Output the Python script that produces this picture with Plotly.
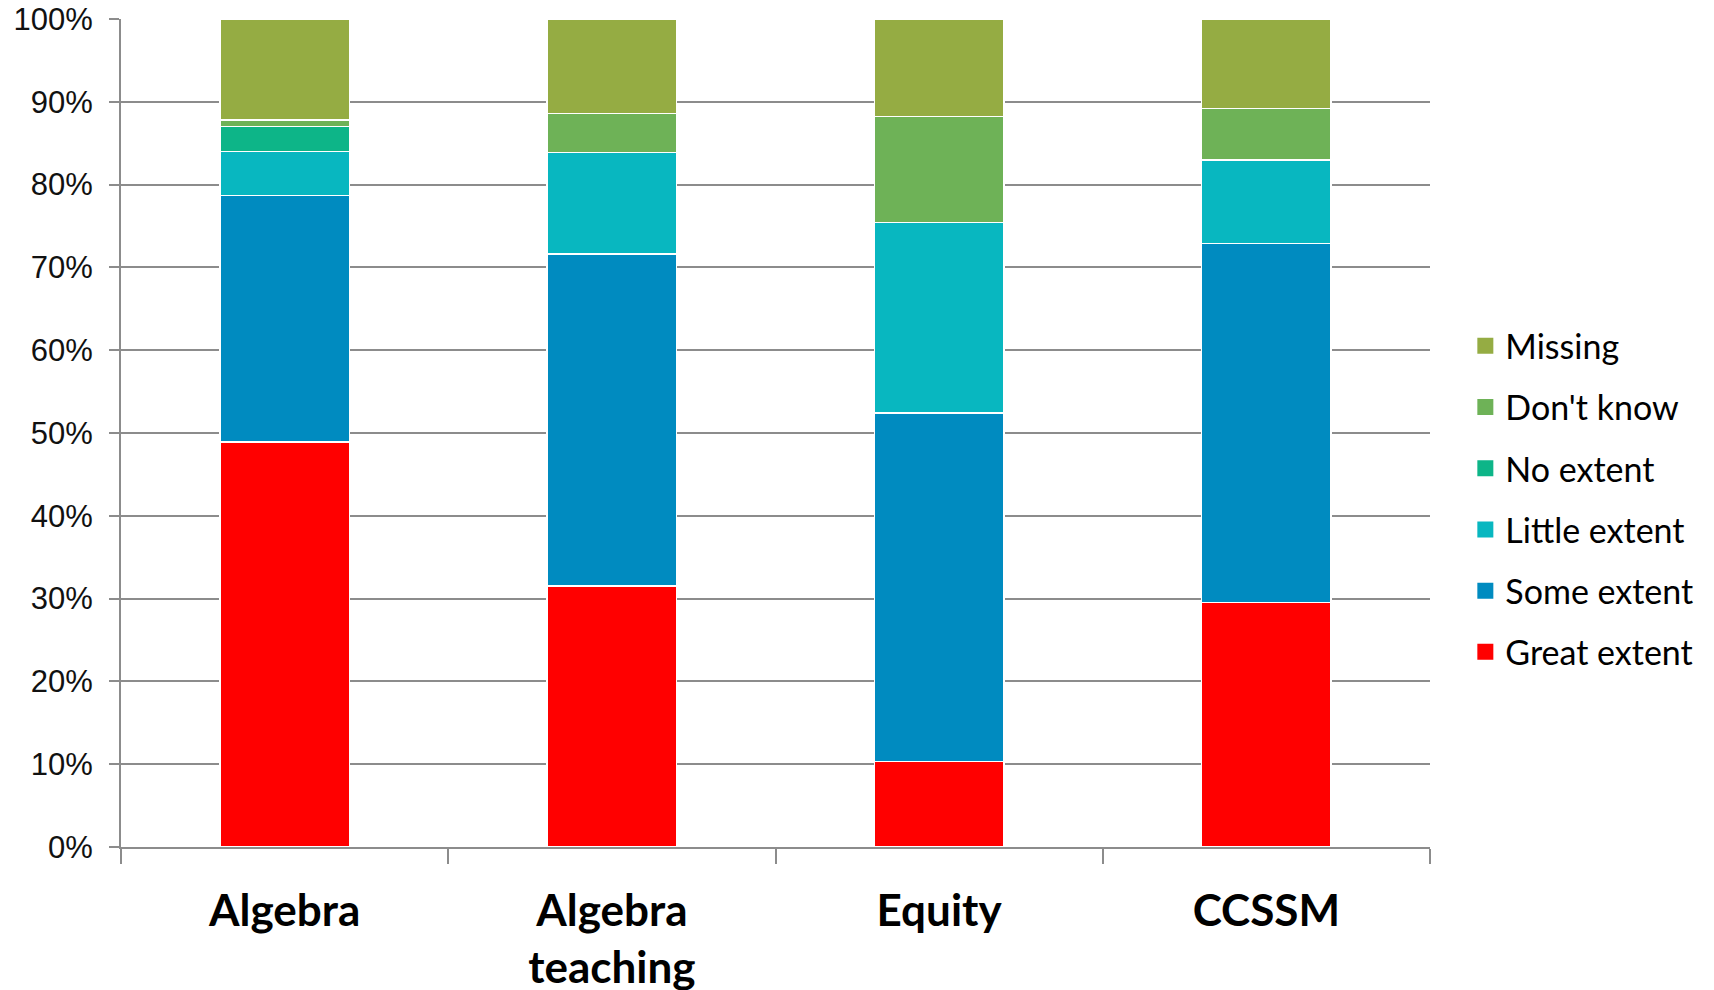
import plotly.graph_objects as go

categories = ["Algebra", "Algebra<br>teaching", "Equity", "CCSSM"]

great_extent = [48.9, 31.5, 10.3, 29.5]
some_extent = [29.8, 40.1, 42.1, 43.4]
little_extent = [5.3, 12.3, 23.0, 10.1]
no_extent = [3.0, 0.0, 0.0, 0.0]
dont_know = [0.8, 4.7, 12.8, 6.2]
missing = [12.2, 11.4, 11.8, 10.8]

series = [
    ("Great extent", great_extent, "#FF0000"),
    ("Some extent", some_extent, "#008BC0"),
    ("Little extent", little_extent, "#08B7C0"),
    ("No extent", no_extent, "#0DB588"),
    ("Don't know", dont_know, "#6EB257"),
    ("Missing", missing, "#95AC43"),
]

fig = go.Figure()
for name, vals, color in series:
    fig.add_trace(go.Bar(
        x=categories, y=vals, name=name,
        marker=dict(color=color, line=dict(color="white", width=1.5)),
        width=0.395, showlegend=False,
    ))

# legend swatches (larger squares than the default bar icon), top entry first
for name, vals, color in reversed(series):
    fig.add_trace(go.Scatter(
        x=[None], y=[None], mode="markers", name=name, legendgroup=name,
        marker=dict(symbol="square", size=16, color=color),
        showlegend=True,
    ))

fig.update_layout(
    barmode="stack",
    width=1714, height=990,
    margin=dict(l=121, r=284, t=19, b=143),
    plot_bgcolor="white", paper_bgcolor="white",
    legend=dict(
        traceorder="grouped", tracegroupgap=14,
        x=1.027, xanchor="left", y=0.42, yanchor="middle",
        font=dict(family="Lato", size=34, color="#000000"),
        bgcolor="rgba(0,0,0,0)",
    ),
)
fig.update_yaxes(
    range=[0, 100], dtick=10, ticksuffix="%",
    showgrid=True, gridcolor="#8C8C8C", gridwidth=2,
    showline=True, linecolor="#8C8C8C", linewidth=2,
    ticks="outside", ticklen=10, tickcolor="#8C8C8C", tickwidth=2,
    tickfont=dict(family="Liberation Sans", size=31, color="#111111"),
    ticklabelstandoff=10,
    zeroline=False, automargin=False,
)
fig.update_xaxes(
    showline=True, linecolor="#8C8C8C", linewidth=2,
    ticks="outside", tickson="boundaries", ticklen=15,
    tickcolor="#8C8C8C", tickwidth=2,
    tickfont=dict(family="Lato", size=44, color="#000000", weight="bold"),
    ticklabelstandoff=24, automargin=False,
)

fig.write_html("out.html")
